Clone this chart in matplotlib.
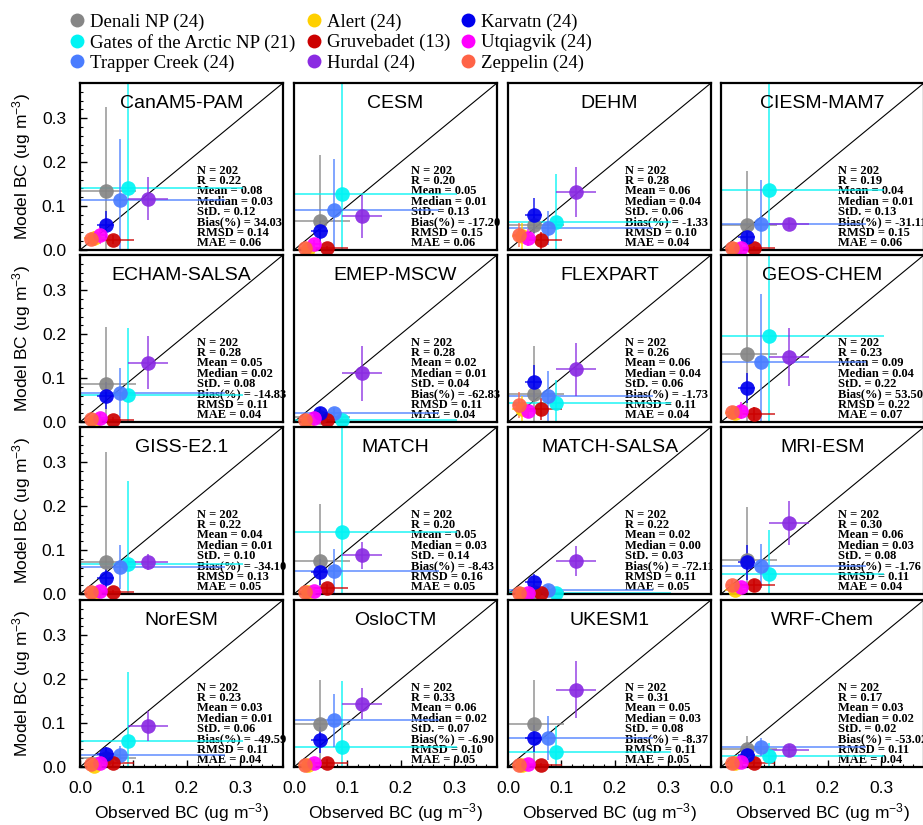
import numpy as np
import matplotlib
matplotlib.use("Agg")
import matplotlib.pyplot as plt
from matplotlib.lines import Line2D
from matplotlib.ticker import MultipleLocator, FormatStrFormatter

plt.rcParams['font.family'] = ['Liberation Sans', 'DejaVu Sans']
plt.rcParams['mathtext.fontset'] = 'custom'
plt.rcParams['mathtext.rm'] = 'Liberation Sans'
plt.rcParams['mathtext.it'] = 'Liberation Sans'

# stations (legend order, filled column by column)
stations = ["Denali NP", "Gates of the Arctic NP", "Trapper Creek",
            "Alert", "Gruvebadet", "Hurdal",
            "Karvatn", "Utqiagvik", "Zeppelin"]
counts = [24, 21, 24, 24, 13, 24, 24, 24, 24]
colors = ["#868686", "#00f4f4", "#4a7dff",
          "#ffd000", "#cc0000", "#8a2be2",
          "#0000ee", "#ff00ff", "#ff6347"]

# observed mean and spread per station
obs_mean = [0.048, 0.090, 0.075, 0.027, 0.061, 0.127, 0.048, 0.037, 0.021]
obs_err = [0.057, 0.215, 0.197, 0.020, 0.040, 0.038, 0.016, 0.014, 0.012]

models = ["CanAM5-PAM", "CESM", "DEHM", "CIESM-MAM7",
          "ECHAM-SALSA", "EMEP-MSCW", "FLEXPART", "GEOS-CHEM",
          "GISS-E2.1", "MATCH", "MATCH-SALSA", "MRI-ESM",
          "NorESM", "OsloCTM", "UKESM1", "WRF-Chem"]

model_mean = [
    [0.135, 0.140, 0.113, 0.028, 0.023, 0.117, 0.058, 0.034, 0.026],
    [0.065, 0.128, 0.092, 0.003, 0.004, 0.077, 0.043, 0.013, 0.005],
    [0.056, 0.063, 0.050, 0.032, 0.022, 0.131, 0.079, 0.028, 0.034],
    [0.057, 0.137, 0.060, 0.002, 0.004, 0.060, 0.030, 0.005, 0.004],
    [0.087, 0.061, 0.066, 0.003, 0.005, 0.135, 0.060, 0.010, 0.006],
    [0.011, 0.005, 0.021, 0.002, 0.004, 0.111, 0.021, 0.008, 0.004],
    [0.064, 0.044, 0.060, 0.030, 0.029, 0.120, 0.090, 0.024, 0.039],
    [0.154, 0.195, 0.137, 0.020, 0.019, 0.148, 0.077, 0.026, 0.022],
    [0.072, 0.068, 0.061, 0.003, 0.004, 0.072, 0.036, 0.006, 0.005],
    [0.075, 0.140, 0.052, 0.004, 0.013, 0.088, 0.050, 0.006, 0.005],
    [0.005, 0.003, 0.010, 0.001, 0.003, 0.075, 0.028, 0.003, 0.002],
    [0.077, 0.045, 0.063, 0.010, 0.020, 0.162, 0.072, 0.015, 0.020],
    [0.020, 0.059, 0.027, 0.003, 0.008, 0.093, 0.030, 0.010, 0.006],
    [0.097, 0.045, 0.106, 0.004, 0.010, 0.144, 0.061, 0.010, 0.005],
    [0.097, 0.034, 0.065, 0.004, 0.005, 0.176, 0.065, 0.006, 0.005],
    [0.040, 0.025, 0.045, 0.008, 0.010, 0.038, 0.027, 0.012, 0.010],
]

model_err = [
    [0.190, 0.300, 0.140, 0.015, 0.010, 0.048, 0.030, 0.020, 0.010],
    [0.152, 0.300, 0.115, 0.005, 0.006, 0.049, 0.024, 0.010, 0.006],
    [0.020, 0.110, 0.038, 0.030, 0.020, 0.057, 0.040, 0.020, 0.028],
    [0.123, 0.300, 0.100, 0.003, 0.005, 0.012, 0.012, 0.006, 0.005],
    [0.130, 0.154, 0.056, 0.004, 0.006, 0.060, 0.030, 0.010, 0.006],
    [0.010, 0.006, 0.010, 0.002, 0.004, 0.063, 0.012, 0.006, 0.004],
    [0.108, 0.052, 0.057, 0.030, 0.025, 0.060, 0.040, 0.015, 0.030],
    [0.300, 0.300, 0.155, 0.015, 0.015, 0.066, 0.034, 0.020, 0.015],
    [0.250, 0.190, 0.050, 0.003, 0.004, 0.018, 0.020, 0.005, 0.004],
    [0.130, 0.300, 0.050, 0.004, 0.010, 0.030, 0.030, 0.005, 0.004],
    [0.006, 0.003, 0.010, 0.001, 0.003, 0.035, 0.018, 0.003, 0.002],
    [0.120, 0.100, 0.050, 0.010, 0.015, 0.050, 0.040, 0.010, 0.012],
    [0.015, 0.158, 0.020, 0.003, 0.006, 0.034, 0.015, 0.008, 0.005],
    [0.100, 0.150, 0.060, 0.004, 0.008, 0.035, 0.030, 0.008, 0.004],
    [0.100, 0.060, 0.050, 0.004, 0.004, 0.065, 0.030, 0.005, 0.004],
    [0.030, 0.030, 0.020, 0.006, 0.008, 0.015, 0.015, 0.008, 0.008],
]

# statistics printed in each panel
stat_r = ["0.22", "0.20", "0.28", "0.19", "0.28", "0.28", "0.26", "0.23",
          "0.22", "0.20", "0.22", "0.30", "0.23", "0.33", "0.31", "0.17"]
stat_mean = ["0.08", "0.05", "0.06", "0.04", "0.05", "0.02", "0.06", "0.09",
             "0.04", "0.05", "0.02", "0.06", "0.03", "0.06", "0.05", "0.03"]
stat_median = ["0.03", "0.01", "0.04", "0.01", "0.02", "0.01", "0.04", "0.04",
               "0.01", "0.03", "0.00", "0.03", "0.01", "0.02", "0.03", "0.02"]
stat_std = ["0.12", "0.13", "0.06", "0.13", "0.08", "0.04", "0.06", "0.22",
            "0.10", "0.14", "0.03", "0.08", "0.06", "0.07", "0.08", "0.02"]
stat_bias = ["34.03", "-17.20", "-1.33", "-31.11", "-14.83", "-62.83", "-1.73", "53.50",
             "-34.10", "-8.43", "-72.11", "-1.76", "-49.59", "-6.90", "-8.37", "-53.02"]
stat_rmsd = ["0.14", "0.15", "0.10", "0.15", "0.11", "0.11", "0.11", "0.22",
             "0.13", "0.16", "0.11", "0.11", "0.11", "0.10", "0.11", "0.11"]
stat_mae = ["0.06", "0.06", "0.04", "0.06", "0.04", "0.04", "0.04", "0.07",
            "0.05", "0.05", "0.05", "0.04", "0.04", "0.05", "0.05", "0.04"]
n_obs = 202

W, H = 923, 825
fig = plt.figure(figsize=(W / 100, H / 100), dpi=100)

lefts = [80, 294, 508, 721]
tops = [83, 255, 427, 600]
pw, ph = 203, 167
lim = 0.38

for k, name in enumerate(models):
    r, c = divmod(k, 4)
    ax = fig.add_axes([lefts[c] / W, 1 - (tops[r] + ph) / H, pw / W, ph / H])
    ax.set_xlim(0, lim)
    ax.set_ylim(0, lim)
    ax.plot([0, lim], [0, lim], color="black", lw=0.8, zorder=1)

    for i in range(len(stations)):
        ax.errorbar(obs_mean[i], model_mean[k][i], xerr=obs_err[i], yerr=model_err[k][i],
                    fmt="none", ecolor=colors[i], elinewidth=1.3, alpha=0.75, zorder=2)
    for i in range(len(stations)):
        ax.plot(obs_mean[i], model_mean[k][i], "o", ms=10.5, color=colors[i],
                mec="none", alpha=0.92, clip_on=False, zorder=4)

    ax.text(0.5, 0.88, name, transform=ax.transAxes, ha="center", va="center",
            fontsize=14)

    lines = ["N = %d" % n_obs, "R = " + stat_r[k], "Mean = " + stat_mean[k],
             "Median = " + stat_median[k], "StD. = " + stat_std[k],
             "Bias(%) = " + stat_bias[k], "RMSD = " + stat_rmsd[k],
             "MAE = " + stat_mae[k]]
    for j, s in enumerate(lines):
        ax.text(0.575, 0.476 - j * 0.062, s, transform=ax.transAxes, ha="left",
                va="center", fontsize=9.0, fontweight="bold",
                family="Liberation Serif", zorder=1)

    for sp in ax.spines.values():
        sp.set_linewidth(1.6)

    ax.xaxis.set_major_locator(MultipleLocator(0.1))
    ax.xaxis.set_minor_locator(MultipleLocator(0.02))
    ax.yaxis.set_major_locator(MultipleLocator(0.1))
    ax.yaxis.set_minor_locator(MultipleLocator(0.02))
    ax.tick_params(which="both", direction="in", labelsize=12.5, pad=10,
                   top=False, right=False)
    ax.tick_params(which="major", length=5, width=1)
    ax.tick_params(which="minor", length=2.5, width=0.8)
    if c != 0:
        ax.tick_params(axis="y", which="both", left=False, labelleft=False)
    else:
        ax.yaxis.set_major_formatter(FormatStrFormatter("%.1f"))
        fig.text(22 / W, 1 - (tops[r] + ph / 2) / H, "Model BC (ug m$^{-3}$)",
                 rotation=90, ha="center", va="center", fontsize=12.5)
    if r != 3:
        ax.tick_params(axis="x", which="both", bottom=False, labelbottom=False)
    else:
        ax.xaxis.set_major_formatter(FormatStrFormatter("%.1f"))
        fig.text((lefts[c] + pw / 2) / W, 1 - 813 / H, "Observed BC (ug m$^{-3}$)",
                 ha="center", va="center", fontsize=12.5)

# legend drawn by hand: three columns, filled top to bottom
marker_x = [77, 314, 468]
row_y = [20, 40.5, 61]
for i in range(len(stations)):
    col, row = divmod(i, 3)
    fx = marker_x[col] / W
    fy = 1 - row_y[row] / H
    fig.add_artist(Line2D([fx], [fy], transform=fig.transFigure, ls="none",
                          marker="o", ms=10, color=colors[i], mec="none"))
    fig.text(fx + 13 / W, fy, "%s (%d)" % (stations[i], counts[i]),
             ha="left", va="center_baseline", fontsize=13.5,
             family="Liberation Serif")

fig.savefig("out.png", dpi=100)
